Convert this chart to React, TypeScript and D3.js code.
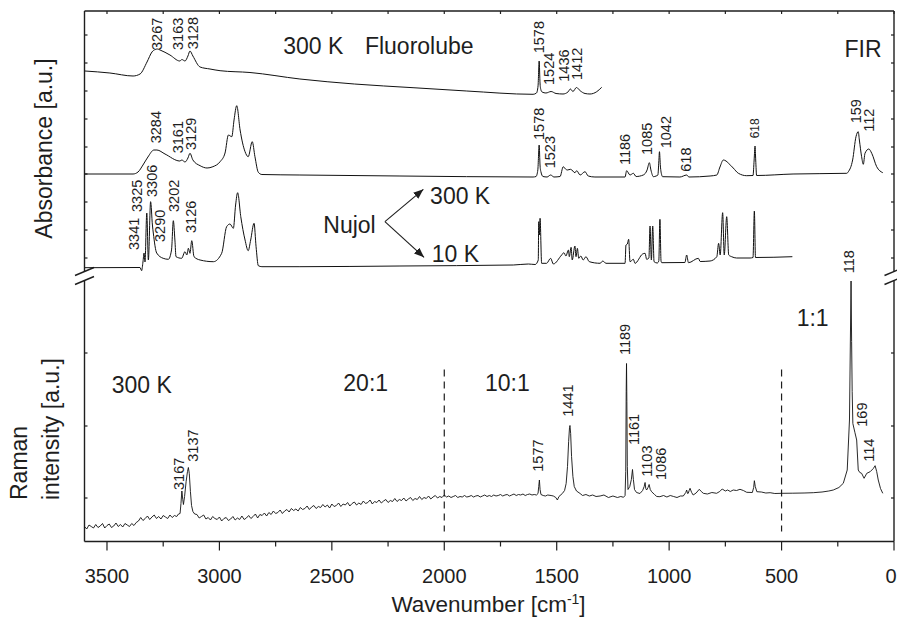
import React from "react";
import * as d3 from "d3";

type Pt = [number, number];

// Wavenumber axis (cm-1), drawn high to low
const xMajorTicks = [3500, 3000, 2500, 2000, 1500, 1000, 500, 0];
const xMinorTicks = [3250, 2750, 2250, 1750, 1250, 750, 250];

// Tick positions on the two intensity axes (a.u.)
const absorbanceTicks = [12, 40, 68, 96, 123, 151, 179, 207, 235];
const ramanTicks = [43.5, 115.5, 188.5];

// Raman scaling regions (20:1 | 10:1 | 1:1) separated at these wavenumbers
const dilutionBoundaries = [2000, 500];

// IR absorbance, Fluorolube mull, 300 K  [wavenumber, absorbance a.u.]
const fluorolube300K: Pt[] = [
  [3598, 199], [3487, 197], [3384, 194], [3353, 196], [3322, 208], [3300, 218],
  [3286, 220.5], [3276, 221], [3264, 220], [3220, 215], [3176, 209], [3167, 210.5],
  [3153, 209], [3140, 214], [3131, 219], [3118, 214], [3086, 203], [3042, 201],
  [2997, 199.3], [2864, 197.5], [2642, 191], [2400, 186], [2139, 182.3], [1900, 179],
  [1605, 175.7], [1590, 177], [1583, 184], [1578, 209], [1574, 186], [1570, 180],
  [1565, 178], [1548, 177], [1525, 178.5], [1503, 176.5], [1472, 176], [1450, 178],
  [1439, 181], [1428, 178.5], [1412, 182.5], [1396, 179.3], [1374, 176.5], [1352, 176],
  [1322, 178.3], [1300, 182.7],
];

// IR absorbance, Nujol mull, 300 K (mid/far IR)
const nujol300K: Pt[] = [
  [3598, 96], [3384, 96], [3362, 98], [3340, 105], [3318, 113], [3291, 120], [3278, 120],
  [3242, 116], [3176, 109], [3167, 110], [3153, 108], [3140, 112], [3131, 116.7],
  [3118, 110], [3086, 104.3], [3055, 102], [3029, 103.3], [2997, 108.3], [2975, 117],
  [2960, 135], [2945, 133.3], [2935, 150], [2923, 164.3], [2908, 140], [2886, 118.3],
  [2872, 113.3], [2854, 128.3], [2842, 113.3], [2827, 97.7], [2811, 95.5], [2642, 95],
  [2197, 94], [1605, 93], [1592, 93.5], [1584, 100], [1578, 125], [1574, 104], [1570, 98],
  [1561, 93.5], [1543, 93], [1527, 95], [1512, 93], [1485, 93.5], [1471, 103.3],
  [1461, 101], [1453, 100], [1438, 100.7], [1419, 97.3], [1411, 99.3], [1396, 95],
  [1374, 98.3], [1360, 94], [1330, 93], [1196, 93], [1189, 99.3], [1174, 95],
  [1159, 96.7], [1147, 93.5], [1115, 95], [1098, 100], [1088, 107.3], [1081, 100],
  [1070, 93.3], [1058, 94], [1050, 95], [1046, 108], [1043, 118.3], [1039, 104],
  [1033, 95], [1029, 93.3], [952, 93], [922, 95], [912, 93], [818, 94], [788, 95],
  [774, 103], [759, 110], [747, 109], [737, 107], [715, 102], [692, 96.7], [655, 94.3],
  [627, 94.5], [622, 110], [618, 124], [615, 110], [611, 94.5], [449, 96], [210, 96.7],
  [203, 98.3], [184, 110], [169, 133.3], [159, 138.3], [154, 130], [144, 113.3],
  [136.5, 105.7], [129, 116.7], [112, 121], [99, 116.7], [77, 103.3], [50, 97.3],
];

// IR absorbance, Nujol mull, 10 K
const nujol10K: Pt[] = [
  [3598, 2.3], [3353, 2.5], [3346, -0.7], [3340, 8], [3335, 17], [3331, 8], [3323, 57],
  [3316, 10], [3306, 68.3], [3298, 45], [3294, 37], [3279, 17], [3250, 11.7],
  [3227, 10.7], [3213, 20], [3205, 49.3], [3198, 30], [3193, 13.3], [3168, 11.7],
  [3153, 18.3], [3145, 15], [3138, 21.7], [3131, 16.7], [3123, 29.3], [3113, 13.3],
  [3086, 10], [3027, 8.3], [2990, 16.7], [2968, 43.3], [2953, 46], [2938, 41.7],
  [2928, 65], [2919, 77.3], [2905, 53.3], [2886, 30], [2872, 19.3], [2861, 30],
  [2846, 46.7], [2837, 23.3], [2827, 4.3], [2811, 3.3], [2642, 3.3], [2197, 4],
  [1693, 5], [1626, 6], [1596, 5.5], [1582, 10], [1580, 48.3], [1577, 35], [1574, 51.7],
  [1567, 6.7], [1545, 6.7], [1527, 11.7], [1515, 6], [1478, 15], [1468, 17.3],
  [1459, 14], [1448, 20], [1444, 13.3], [1436, 22.7], [1431, 10], [1419, 24],
  [1414, 13.3], [1408, 21.7], [1402, 11.7], [1393, 14], [1382, 10], [1370, 13.3],
  [1355, 8.3], [1307, 6.7], [1295, 9], [1281, 6.7], [1196, 6.7], [1192, 25], [1186, 26],
  [1180, 30.7], [1174, 8.3], [1159, 10.7], [1152, 6.7], [1118, 16], [1107, 16.7],
  [1100, 10.7], [1090, 12], [1085, 44], [1079, 10], [1073, 44], [1067, 8.3], [1053, 7],
  [1046, 9], [1041, 50.7], [1036, 9], [1033, 7.3], [930, 7.5], [922, 15], [914, 7.3],
  [870, 11.7], [862, 8.5], [818, 9], [788, 13.3], [780, 26.7], [773, 15], [762, 57.3],
  [755, 15], [744, 53.3], [735, 15], [722, 13.3], [700, 12], [640, 12], [627, 12.5],
  [621, 59], [616, 12.5], [452, 13.3],
];

// Raman spectrum, 300 K  [wavenumber, intensity a.u.]
const raman300K: Pt[] = [
  [3600, 15], [3590, 12.5], [3580, 16.5], [3570, 15], [3560, 13.5], [3550, 17], [3540, 14],
  [3530, 15.5], [3520, 18], [3510, 13.5], [3500, 16], [3490, 17.5], [3480, 14], [3470, 15.5],
  [3460, 18.5], [3450, 15], [3440, 17], [3430, 14.5], [3420, 18], [3410, 16.5], [3400, 15],
  [3390, 18], [3380, 16], [3370, 19], [3360, 20.5], [3350, 24], [3340, 21], [3330, 23],
  [3320, 25.5], [3310, 22], [3300, 24.5], [3290, 26.5], [3280, 23], [3270, 25], [3260, 22.5],
  [3250, 26], [3240, 24.5], [3230, 23], [3220, 26.5], [3210, 24],
  [3200, 26], [3190, 25], [3182, 27.5], [3175, 28], [3171, 38], [3167, 50.5], [3163, 42],
  [3160, 37], [3155, 45], [3148, 60], [3142, 70], [3138, 74], [3134, 68], [3129, 50],
  [3124, 36], [3118, 30], [3110, 27.5],
  [3100, 27], [3090, 23.5], [3080, 25], [3070, 26.5], [3060, 22.5], [3050, 24], [3040, 21.5],
  [3030, 25], [3020, 23], [3010, 22], [3000, 24.5], [2990, 20.5], [2980, 23], [2970, 24],
  [2960, 21], [2950, 22.5], [2940, 25], [2930, 21.5], [2920, 23.5], [2910, 22], [2900, 25.5],
  [2890, 22], [2880, 23.5], [2870, 26], [2860, 23], [2850, 25], [2840, 27.5], [2830, 23.5],
  [2820, 27], [2810, 26], [2800, 28.5], [2790, 25.5], [2780, 29], [2770, 27], [2760, 30.5],
  [2750, 28], [2740, 29], [2730, 31.5], [2720, 28], [2710, 30.5], [2700, 32], [2690, 29.5],
  [2680, 33], [2670, 31], [2660, 32.5], [2650, 30.5], [2640, 34], [2630, 32], [2620, 33],
  [2610, 35.5], [2600, 32], [2590, 34.5], [2580, 36], [2570, 33], [2560, 35], [2550, 34],
  [2540, 37], [2530, 34.5], [2520, 36.5], [2510, 33.5], [2500, 37.5], [2490, 35], [2480, 36],
  [2470, 38.5], [2460, 35], [2450, 37.5], [2440, 36.5], [2430, 39], [2420, 35.5], [2410, 38],
  [2400, 39.5], [2390, 36.5], [2380, 38.5], [2370, 37], [2360, 40.5], [2350, 38], [2340, 39],
  [2330, 41.5], [2320, 37.5], [2310, 40], [2300, 39], [2290, 41.5], [2280, 38.5], [2270, 40.5],
  [2260, 42], [2250, 39], [2240, 41], [2230, 40], [2220, 43], [2210, 40], [2200, 42],
  [2190, 41], [2180, 43.5], [2170, 40.5], [2160, 42.5], [2150, 44], [2140, 41], [2130, 43],
  [2120, 42], [2110, 45], [2100, 42], [2090, 44], [2080, 43], [2070, 45.5], [2060, 42.5],
  [2050, 44.5], [2040, 46], [2030, 43.5], [2020, 45], [2010, 44], [2000, 46.5],
  [1990, 44.5], [1980, 45.5], [1970, 44], [1960, 45], [1950, 46], [1940, 44], [1930, 45],
  [1920, 44.5], [1910, 46], [1900, 44.5], [1890, 45], [1880, 46], [1870, 44.5], [1860, 45.5],
  [1850, 46], [1840, 44.5], [1830, 45.5], [1820, 46.5], [1810, 45], [1800, 46], [1790, 45],
  [1780, 46.5], [1770, 45.5], [1760, 46], [1750, 47], [1740, 45.5], [1730, 46.5], [1720, 47],
  [1710, 45.5], [1700, 46.5], [1690, 47.5], [1680, 46], [1670, 47], [1660, 46.5], [1650, 47.5],
  [1640, 46], [1630, 47], [1620, 47.5], [1610, 46.5],
  [1600, 47], [1590, 46.5], [1583, 48], [1580, 55], [1577, 61.5], [1574, 52], [1570, 47],
  [1560, 46], [1550, 45.5], [1540, 46.5], [1525, 46], [1515, 45.5], [1504, 44], [1497, 41.5],
  [1490, 45], [1475, 48], [1465, 51], [1458, 58], [1452, 75], [1447, 100], [1443, 114],
  [1441, 116], [1438, 108], [1434, 85], [1428, 65], [1422, 55], [1412, 50.5], [1396, 48],
  [1385, 46], [1370, 47], [1355, 45.5], [1340, 46.5], [1325, 45], [1307, 45.5], [1290, 46.5],
  [1270, 44], [1250, 45.5], [1230, 44], [1215, 45], [1203, 44.2], [1196, 46], [1193, 70],
  [1191, 150], [1189.5, 178], [1188, 140], [1186, 75], [1183, 52], [1175, 55], [1168, 62],
  [1163, 72], [1159, 62], [1154, 52], [1145, 49], [1130, 48], [1118, 51], [1111, 55],
  [1107, 59], [1104, 53], [1100, 51.5], [1094, 54], [1089, 57], [1084, 52], [1078, 49.8],
  [1065, 47], [1055, 45], [1041, 44.8], [1025, 46], [1010, 44.5], [995, 46], [980, 45],
  [965, 44], [950, 45.5], [937, 45.5], [926, 49], [922, 51.5], [918, 48], [915, 48.2],
  [911, 51], [907, 53.2], [900, 49], [893, 46.5], [880, 48.5], [866, 52.2], [857, 50],
  [848, 48.2], [830, 47.5], [810, 49], [789, 48.2], [775, 50], [764, 52.5], [750, 50.5],
  [740, 51.5], [728, 50], [715, 51.5], [700, 51], [685, 52.2], [670, 51], [655, 49.2],
  [630, 49], [624, 54], [621, 60.8], [617, 55], [610, 49.8], [590, 49.5], [570, 48.5],
  [551, 48.8], [530, 48], [499, 48.2], [450, 48.3], [400, 48.5], [359, 48.8], [320, 49.5],
  [290, 50.5], [270, 51.5], [245, 54], [225.5, 58.2], [208, 71.5], [198, 121.5],
  [194, 201.5], [191, 260.5], [188.5, 200], [186, 150], [183, 118], [174, 109.2],
  [166, 101.5], [159, 71.5], [152, 69], [144, 68.2], [133, 63.2], [121, 68.2], [106, 69.8],
  [92, 73], [84, 75.8], [77, 70], [70, 61.5], [60, 53], [50, 48.2],
];

// Band assignments printed beside the IR traces: text, label position (cm-1), label foot (a.u.)
const absorbancePeakLabels = [
  { text: "3267", at: 3279, y: 220 },
  { text: "3163", at: 3186, y: 220 },
  { text: "3128", at: 3120, y: 220.7 },
  { text: "1578", at: 1579, y: 216.7 },
  { text: "1524", at: 1534, y: 185 },
  { text: "1436", at: 1468, y: 188.3 },
  { text: "1412", at: 1408, y: 190 },
  { text: "3284", at: 3283, y: 126.7 },
  { text: "3161", at: 3186, y: 116.7 },
  { text: "3129", at: 3127, y: 120 },
  { text: "1578", at: 1579, y: 130 },
  { text: "1523", at: 1530, y: 101.7 },
  { text: "1186", at: 1196, y: 105 },
  { text: "1085", at: 1100, y: 115 },
  { text: "1042", at: 1015, y: 121.7 },
  { text: "618", at: 925, y: 98.3 },
  { text: "618", at: 618, y: 131.7, small: true },
  { text: "159", at: 169, y: 146.7 },
  { text: "112", at: 110, y: 138.3 },
  { text: "3341", at: 3380, y: 20 },
  { text: "3325", at: 3365, y: 58 },
  { text: "3306", at: 3301, y: 73 },
  { text: "3290", at: 3264, y: 28 },
  { text: "3202", at: 3202, y: 58 },
  { text: "3126", at: 3128, y: 37 },
];

// Band assignments beside the Raman trace
const ramanPeakLabels = [
  { text: "3167", at: 3180, y: 51.5 },
  { text: "3137", at: 3117, y: 79.8 },
  { text: "1577", at: 1585, y: 69.8 },
  { text: "1441", at: 1448, y: 124.8 },
  { text: "1189", at: 1196, y: 186.5 },
  { text: "1161", at: 1156, y: 96.5 },
  { text: "1103", at: 1097, y: 64.8 },
  { text: "1086", at: 1036, y: 61.5 },
  { text: "118", at: 200, y: 268.2 },
  { text: "169", at: 144, y: 114.8 },
  { text: "114", at: 110, y: 79.8 },
];

// Captions inside the panels
const absorbanceNotes = [
  { text: "300 K", at: 2716, y: 215.7, anchor: "start" },
  { text: "Fluorolube", at: 2353, y: 215.7, anchor: "start" },
  { text: "FIR", at: 55, y: 213.3, anchor: "end" },
  { text: "Nujol", at: 2538, y: 36.7, anchor: "start" },
  { text: "300 K", at: 2063, y: 66, anchor: "start" },
  { text: "10 K", at: 2056, y: 8.3, anchor: "start" },
];
const ramanNotes = [
  { text: "300 K", at: 3479, y: 148.2 },
  { text: "20:1", at: 2449, y: 150.8 },
  { text: "10:1", at: 1819, y: 150.8 },
  { text: "1:1", at: 433, y: 215.8 },
];

// "Nujol" arrows pointing to the 300 K and 10 K traces: [from, to] in (cm-1, a.u.)
const nujolArrows: [Pt, Pt][] = [
  [[2264, 48.3], [2093, 80.7]],
  [[2264, 48.3], [2090, 12.7]],
];

const FONT = "'Liberation Sans', Arial, Helvetica, sans-serif";
const INK = "#1e1e1e";

export default function App() {
  const W = 897;
  const H = 623;
  const left = 84.5;
  const right = 894;
  const top = 11;
  const bottom = 541.5;
  const absBottom = 270;
  const ramTop = 281;
  const breakA = 271.5;
  const breakB = 280.5;

  const x = d3.scaleLinear().domain([3600, 0]).range([left, right]);
  const yAbs = d3.scaleLinear().domain([0, 259]).range([absBottom, top]);
  const yRam = d3.scaleLinear().domain([0, 260.5]).range([bottom, ramTop]);

  const absLine = d3
    .line<Pt>()
    .x((d) => x(d[0]))
    .y((d) => yAbs(d[1]))
    .curve(d3.curveMonotoneX);
  const ramLine = d3
    .line<Pt>()
    .x((d) => x(d[0]))
    .y((d) => yRam(d[1]))
    .curve(d3.curveLinear);

  const spectrumStyle = { fill: "none", stroke: "#111", strokeWidth: 1, strokeLinejoin: "round" as const };

  const breakMarks = (cx: number) =>
    [breakA, breakB].map((by, i) => (
      <line key={`${cx}-${i}`} x1={cx - 9.5} y1={by + 4} x2={cx + 9.5} y2={by - 4} stroke={INK} strokeWidth={1.4} />
    ));

  const peakLabel = (
    l: { text: string; at: number; y: number; small?: boolean },
    ys: d3.ScaleLinear<number, number>,
    key: string
  ) => (
    <text
      key={key}
      transform={`translate(${x(l.at)},${ys(l.y)}) rotate(-90)`}
      dy="0.35em"
      textAnchor="start"
      fontSize={l.small ? 12 : 14.5}
      fill={INK}
    >
      {l.text}
    </text>
  );

  // keep the last tick label inside the drawing area
  const tickLabelX = (t: number) => Math.min(x(t), W - 6);

  return (
    <div style={{ position: "absolute", left: 0, top: 0 }}>
      <svg width={W} height={H} viewBox={`0 0 ${W} ${H}`} style={{ display: "block", background: "#fff" }} fontFamily={FONT}>
        <defs>
          <marker id="arrowHead" viewBox="0 0 10 8" refX="10" refY="4" markerWidth="10" markerHeight="8" markerUnits="userSpaceOnUse" orient="auto">
            <path d="M0,0 L10,4 L0,8 Z" fill={INK} />
          </marker>
        </defs>

        {/* frame with the axis break between the two panels */}
        <g stroke={INK} strokeWidth={1.4} fill="none">
          <line x1={left} y1={top} x2={right} y2={top} />
          <line x1={left} y1={bottom} x2={right} y2={bottom} />
          <line x1={left} y1={top} x2={left} y2={breakA} />
          <line x1={left} y1={breakB} x2={left} y2={bottom} />
          <line x1={right} y1={top} x2={right} y2={breakA} />
          <line x1={right} y1={breakB} x2={right} y2={bottom} />
        </g>
        {breakMarks(left)}
        {breakMarks(right)}

        {/* x ticks: outward on the bottom, inward on the top */}
        <g stroke={INK} strokeWidth={1.2}>
          {xMajorTicks.map((t) => (
            <g key={`M${t}`}>
              <line x1={x(t)} x2={x(t)} y1={bottom} y2={bottom + 9} />
              <line x1={x(t)} x2={x(t)} y1={top} y2={top + 3} />
            </g>
          ))}
          {xMinorTicks.map((t) => (
            <g key={`m${t}`}>
              <line x1={x(t)} x2={x(t)} y1={bottom} y2={bottom + 5} />
              <line x1={x(t)} x2={x(t)} y1={top} y2={top + 3} />
            </g>
          ))}
          {absorbanceTicks.map((t) => (
            <g key={`a${t}`}>
              <line x1={left} x2={left + 3} y1={yAbs(t)} y2={yAbs(t)} />
              <line x1={right - 3} x2={right} y1={yAbs(t)} y2={yAbs(t)} />
            </g>
          ))}
          {ramanTicks.map((t) => (
            <g key={`r${t}`}>
              <line x1={left} x2={left + 3} y1={yRam(t)} y2={yRam(t)} />
              <line x1={right - 3} x2={right} y1={yRam(t)} y2={yRam(t)} />
            </g>
          ))}
        </g>
        <g fontSize={20} fill={INK} textAnchor="middle">
          {xMajorTicks.map((t) => (
            <text key={`l${t}`} x={tickLabelX(t)} y={583}>
              {t}
            </text>
          ))}
        </g>

        {/* axis titles */}
        <text x={488.5} y={611.5} fontSize={22.5} fill={INK} textAnchor="middle">
          <tspan>Wavenumber [cm</tspan>
          <tspan dy={-8} fontSize={14}>-1</tspan>
          <tspan dy={8}>]</tspan>
        </text>
        <text transform="translate(51.5,148.5) rotate(-90)" fontSize={23} fill={INK} textAnchor="middle">
          Absorbance [a.u.]
        </text>
        <text transform="translate(26.5,500) rotate(-90)" fontSize={23} fill={INK} textAnchor="start">
          Raman
        </text>
        <text transform="translate(58.5,500) rotate(-90)" fontSize={23} fill={INK} textAnchor="start">
          intensity [a.u.]
        </text>

        {/* dilution region boundaries of the Raman trace */}
        {dilutionBoundaries.map((b) => (
          <line key={`d${b}`} x1={x(b)} x2={x(b)} y1={yRam(172)} y2={yRam(10)} stroke={INK} strokeWidth={1.2} strokeDasharray="7,5" />
        ))}

        {/* spectra */}
        <path d={absLine(fluorolube300K) ?? ""} {...spectrumStyle} />
        <path d={absLine(nujol300K) ?? ""} {...spectrumStyle} />
        <path d={absLine(nujol10K) ?? ""} {...spectrumStyle} />
        <path d={ramLine(raman300K) ?? ""} {...spectrumStyle} strokeWidth={0.9} />

        {/* band positions */}
        <g fontFamily={FONT}>
          {absorbancePeakLabels.map((l, i) => peakLabel(l, yAbs, `ap${i}`))}
          {ramanPeakLabels.map((l, i) => peakLabel(l, yRam, `rp${i}`))}
        </g>

        {/* panel captions */}
        <g fontSize={23} fill={INK}>
          {absorbanceNotes.map((n, i) => (
            <text key={`an${i}`} x={x(n.at)} y={yAbs(n.y)} textAnchor={n.anchor as "start" | "end"}>
              {n.text}
            </text>
          ))}
          {ramanNotes.map((n, i) => (
            <text key={`rn${i}`} x={x(n.at)} y={yRam(n.y)}>
              {n.text}
            </text>
          ))}
        </g>

        {nujolArrows.map(([a, b], i) => (
          <line
            key={`arr${i}`}
            x1={x(a[0])}
            y1={yAbs(a[1])}
            x2={x(b[0])}
            y2={yAbs(b[1])}
            stroke={INK}
            strokeWidth={1.1}
            markerEnd="url(#arrowHead)"
          />
        ))}
      </svg>
    </div>
  );
}
